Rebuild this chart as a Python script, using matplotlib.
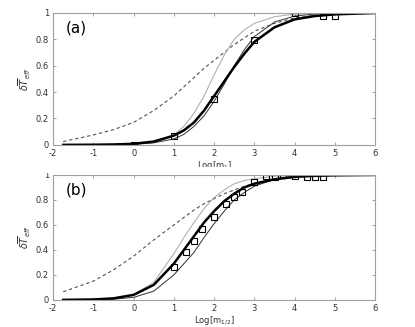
import numpy as np
import matplotlib
matplotlib.use('Agg')
import matplotlib.pyplot as plt
from matplotlib.patches import Rectangle

plt.rcParams['axes.unicode_minus'] = False

# log mass grid the curves were read at
logm = [-1.75, -1, -0.5, 0, 0.5, 1, 1.25, 1.5, 1.75, 2, 2.25, 2.5, 2.75, 3, 3.5, 4, 4.5, 5, 6]

# panel (a)
thick_a = [0, 0.001, 0.003, 0.008, 0.025, 0.07, 0.11, 0.17, 0.26, 0.37, 0.48, 0.59, 0.69, 0.78, 0.89, 0.95, 0.975, 0.988, 0.998]
thin_a = [0, 0, 0.001, 0.004, 0.015, 0.045, 0.08, 0.14, 0.22, 0.33, 0.46, 0.6, 0.72, 0.82, 0.93, 0.975, 0.99, 0.997, 1.0]
gray_a = [0, 0, 0.001, 0.005, 0.02, 0.075, 0.14, 0.24, 0.37, 0.53, 0.68, 0.8, 0.87, 0.92, 0.97, 0.99, 0.996, 0.999, 1.0]
dash_a = [0.025, 0.075, 0.115, 0.17, 0.26, 0.37, 0.44, 0.51, 0.58, 0.64, 0.70, 0.76, 0.81, 0.86, 0.92, 0.96, 0.98, 0.99, 1.0]
sq_x_a = [0, 1, 2, 3, 4, 4.7, 5]
sq_y_a = [0.0, 0.07, 0.35, 0.79, 1.0, 0.975, 0.975]

# panel (b)
thick_b = [0, 0.003, 0.012, 0.04, 0.12, 0.29, 0.4, 0.51, 0.62, 0.71, 0.79, 0.85, 0.9, 0.93, 0.965, 0.985, 0.993, 0.997, 1.0]
thin_b = [0, 0.001, 0.005, 0.02, 0.07, 0.2, 0.29, 0.38, 0.5, 0.61, 0.71, 0.8, 0.86, 0.91, 0.965, 0.99, 0.997, 1.0, 1.0]
gray_b = [0, 0.002, 0.01, 0.04, 0.14, 0.37, 0.5, 0.62, 0.73, 0.82, 0.88, 0.93, 0.955, 0.97, 0.99, 0.997, 1.0, 1.0, 1.0]
dash_b = [0.065, 0.15, 0.24, 0.35, 0.48, 0.6, 0.66, 0.72, 0.77, 0.81, 0.85, 0.88, 0.91, 0.93, 0.96, 0.98, 0.99, 0.995, 1.0]
sq_x_b = [1, 1.3, 1.5, 1.7, 2, 2.3, 2.5, 2.7, 3, 3.3, 3.5, 3.7, 4, 4.3, 4.5, 4.7]
sq_y_b = [0.26, 0.38, 0.47, 0.57, 0.66, 0.77, 0.82, 0.865, 0.94, 0.99, 0.98, 1.0, 0.99, 0.987, 0.987, 0.987]

xticks = [-2, -1, 0, 1, 2, 3, 4, 5, 6]
yticks = [0, 0.2, 0.4, 0.6, 0.8, 1]

fig = plt.figure(figsize=(4.15, 3.27), dpi=100)
ax_a = fig.add_axes([0.128, 0.557, 0.776, 0.404])
ax_b = fig.add_axes([0.128, 0.083, 0.776, 0.382])

panels = [
    (ax_a, thick_a, thin_a, gray_a, dash_a, sq_x_a, sq_y_a, '(a)', 'Log[m$_1$]'),
    (ax_b, thick_b, thin_b, gray_b, dash_b, sq_x_b, sq_y_b, '(b)', 'Log[m$_{1/2}$]'),
]

for ax, thick, thin, gray, dash, sqx, sqy, tag, xlab in panels:
    ax.plot(logm, dash, color='#505050', lw=0.8, ls=(0, (3, 2.5)))
    ax.plot(logm, gray, color='#b0b0b0', lw=0.8)
    ax.plot(logm, thin, color='#303030', lw=0.7)
    ax.plot(logm, thick, color='black', lw=1.8)
    ax.plot(sqx, sqy, ls='none', marker='s', ms=4.5, mfc='none', mec='black', mew=0.8)
    ax.set_xlim(-2, 6)
    ax.set_ylim(0, 1)
    ax.set_xticks(xticks)
    ax.set_yticks(yticks)
    ax.set_yticklabels(['0', '0.2', '0.4', '0.6', '0.8', '1'])
    ax.tick_params(direction='in', top=True, right=True, length=2.5, width=0.6,
                   labelsize=6, colors='#909090', labelcolor='#303030', pad=3)
    for sp in ax.spines.values():
        sp.set_color('#a0a0a0')
        sp.set_linewidth(0.8)
    ax.set_ylabel(r'$\delta\overline{T}_{eff}$', fontsize=7, color='#303030', labelpad=2)
    ax.set_xlabel(xlab, fontsize=6, color='#303030', labelpad=1)
    ax.text(0.04, 0.94, tag, transform=ax.transAxes, ha='left', va='top', fontsize=11)

# the top label is partly hidden behind the lower panel in the original
fig.patches.append(Rectangle((0, 0.47), 1, 0.018, transform=fig.transFigure,
                             facecolor='white', edgecolor='none', zorder=10))

fig.savefig('out.png', dpi=100)
